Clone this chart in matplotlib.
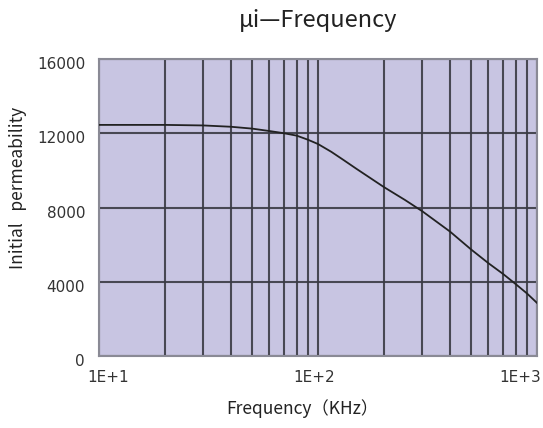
import matplotlib
matplotlib.use("Agg")
import matplotlib.pyplot as plt
import matplotlib.transforms as mtransforms
from matplotlib.ticker import LogLocator, NullFormatter

plt.rcParams['font.family'] = ['Noto Sans CJK JP', 'DejaVu Sans']

freq_khz = [10, 20, 30, 40, 50, 60, 70, 80, 90, 100, 115, 130, 150, 200,
            250, 300, 400, 500, 600, 700, 800, 900, 1000]
permeability = [12450, 12450, 12420, 12350, 12250, 12120, 12000, 11870, 11650,
                11420, 11000, 10580, 10080, 9100, 8400, 7790, 6710, 5740,
                5000, 4420, 3870, 3370, 2860]

x_ticks = [10, 100, 1000]
x_tick_labels = ['1E+1', '1E+2', '1E+3']
y_ticks = [0, 4000, 8000, 12000, 16000]
y_tick_labels = ['0', '4000', '8000', '12000', '16000']

title = 'μi—Frequency'
xlabel = 'Frequency（KHz）'
ylabel = 'Initial   permeability'

fig = plt.figure(figsize=(5.43, 4.28), dpi=100)
ax = fig.add_axes([99/543, 1 - 356/428, 438/543, 297/428])

ax.set_facecolor('#c8c5e2')
ax.set_xscale('log')
ax.set_xlim(10, 1000)
ax.set_ylim(0, 16000)

ax.xaxis.set_minor_locator(LogLocator(base=10, subs=range(2, 10)))
ax.xaxis.set_minor_formatter(NullFormatter())
ax.set_xticks(x_ticks, x_tick_labels)
ax.set_yticks(y_ticks, y_tick_labels)

grid_kw = dict(color='#3a3a44', linewidth=1.5, alpha=0.9)
ax.grid(True, which='both', axis='x', **grid_kw)
ax.grid(True, which='major', axis='y', **grid_kw)
ax.set_axisbelow(True)

ax.plot(freq_khz, permeability, color='#222222', linewidth=1.3, zorder=3)

for sp in ax.spines.values():
    sp.set_color('#8a8a95')
    sp.set_linewidth(1.5)

ax.tick_params(which='both', length=0, labelsize=11, colors='#333333',
               labelfontfamily='DejaVu Sans')
ax.tick_params(axis='x', pad=10)
ax.tick_params(axis='y', pad=10)

# shift tick labels as in the reference
offsets_px = [9, -4, -17]
for lab, dx in zip(ax.get_xticklabels(), offsets_px):
    lab.set_transform(lab.get_transform() +
                      mtransforms.ScaledTranslation(dx / 100, 0, fig.dpi_scale_trans))
for lab in ax.get_yticklabels():
    lab.set_transform(lab.get_transform() +
                      mtransforms.ScaledTranslation(0, -4 / 100, fig.dpi_scale_trans))

ax.set_xlabel(xlabel, fontsize=12.5, color='#222222')
ax.xaxis.set_label_coords((302 - 99) / 438, (356 - 409) / 297)
ax.xaxis.label.set_va('center')
ax.set_ylabel(ylabel, fontsize=12.5, color='#222222')
ax.yaxis.set_label_coords((18 - 99) / 438, (356 - 188) / 297)
ax.yaxis.label.set_va('center')

ax.text(0.5, (356 - 21) / 297, title, transform=ax.transAxes,
        ha='center', va='center', fontsize=17, color='#222222')

fig.savefig('out.png', dpi=100)
